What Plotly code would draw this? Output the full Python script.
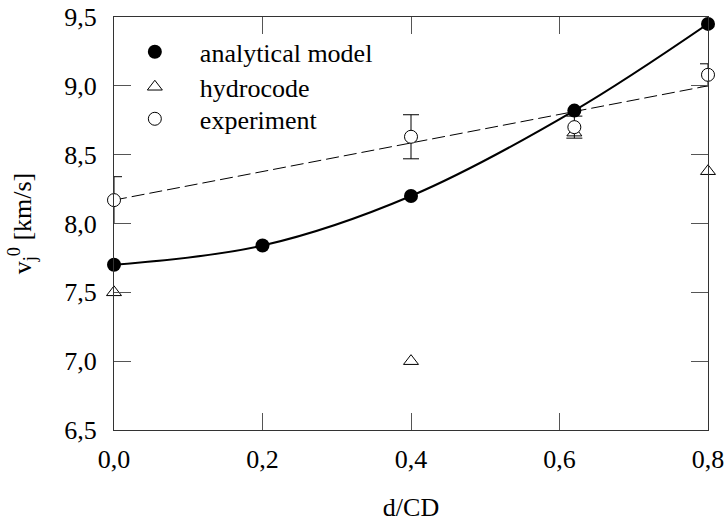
import plotly.graph_objects as go

# --- data ---
x_model = [0.0, 0.2, 0.4, 0.62, 0.8]
y_model = [7.70, 7.84, 8.20, 8.82, 9.45]

x_hydro = [0.0, 0.4, 0.62, 0.8]
y_hydro = [7.50, 7.00, 8.66, 8.38]

x_exp = [0.0, 0.4, 0.62, 0.8]
y_exp = [8.17, 8.63, 8.70, 9.08]
err_exp = [0.17, 0.16, 0.08, 0.08]

x_fit = [0.0, 0.8]
y_fit = [8.17, 9.00]

x_ticks = [0.0, 0.2, 0.4, 0.6, 0.8]
x_ticktext = ["0,0", "0,2", "0,4", "0,6", "0,8"]
y_ticks = [6.5, 7.0, 7.5, 8.0, 8.5, 9.0, 9.5]
y_ticktext = ["6,5", "7,0", "7,5", "8,0", "8,5", "9,0", "9,5"]

FONT = "Liberation Serif"
FS = 26

fig = go.Figure()

# analytical model curve (smooth)
fig.add_trace(go.Scatter(x=x_model, y=y_model, mode="lines",
                         line=dict(color="black", width=2, shape="spline"),
                         showlegend=False, hoverinfo="skip"))
# experiment fit (dashed)
fig.add_trace(go.Scatter(x=x_fit, y=y_fit, mode="lines",
                         line=dict(color="black", width=1, dash="13px,5px"),
                         showlegend=False, hoverinfo="skip"))

fig.add_trace(go.Scatter(x=x_model, y=y_model, mode="markers", name="analytical model",
                         marker=dict(symbol="circle", size=14, color="black"),
                         cliponaxis=False, legend="legend"))
fig.add_trace(go.Scatter(x=x_hydro, y=y_hydro, mode="markers", name="hydrocode",
                         marker=dict(symbol="triangle-up", size=13, color="white",
                                     line=dict(color="black", width=1)),
                         cliponaxis=False, legend="legend2"))
fig.add_trace(go.Scatter(x=x_exp, y=y_exp, mode="markers", name="experiment",
                         marker=dict(symbol="circle", size=13, color="white",
                                     line=dict(color="black", width=1)),
                         error_y=dict(type="data", array=err_exp, visible=True,
                                      color="black", thickness=1, width=8),
                         cliponaxis=False, legend="legend3"))

axis_common = dict(showline=True, linecolor="#333", linewidth=1, mirror="ticks",
                   ticks="inside", ticklen=17, tickcolor="#555", tickwidth=1,
                   showgrid=False, zeroline=False,
                   tickfont=dict(family=FONT, size=FS, color="black"))

fig.update_xaxes(range=[0, 0.8], tickvals=x_ticks, ticktext=x_ticktext,
                 ticklabelstandoff=6,
                 title=dict(text="d/CD", font=dict(family=FONT, size=FS, color="black"),
                            standoff=24),
                 **axis_common)
fig.update_yaxes(range=[6.5, 9.5], tickvals=y_ticks, ticktext=y_ticktext,
                 ticklabelstandoff=11,
                 title=dict(text="v<sub>j</sub><sup>0</sup> [km/s]",
                            font=dict(family=FONT, size=FS, color="black"),
                            standoff=25),
                 **axis_common)

leg_common = dict(xanchor="left", yanchor="top", x=-0.007,
                  bgcolor="rgba(0,0,0,0)", font=dict(family=FONT, size=FS),
                  itemwidth=80)

fig.update_layout(
    width=726, height=523,
    margin=dict(l=114, r=18, t=17, b=93, autoexpand=False),
    paper_bgcolor="white", plot_bgcolor="white",
    font=dict(family=FONT, size=FS, color="black"),
    legend=dict(y=0.9724, **leg_common),
    legend2=dict(y=0.8877, **leg_common),
    legend3=dict(y=0.8102, **leg_common),
)

fig.write_html("out.html")
